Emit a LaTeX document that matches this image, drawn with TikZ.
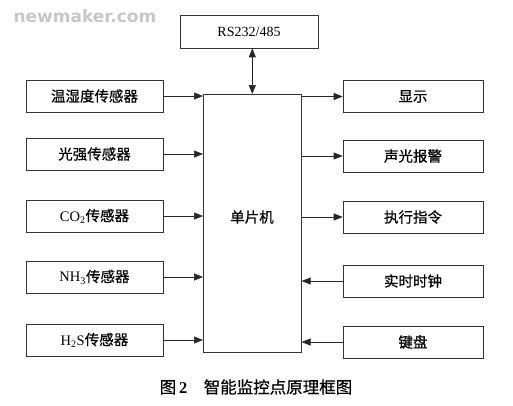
\documentclass[tikz,border=0pt]{standalone}
\usepackage{fontspec}
\setmainfont{Liberation Serif}
\newfontfamily\cjk[FakeBold=0.6]{Noto Sans CJK SC}
\newfontfamily\wmfont{DejaVu Sans}
\newcommand{\lat}[1]{{\rmfamily #1}}
\usetikzlibrary{arrows.meta}
\begin{document}
\begin{tikzpicture}[x=1pt,y=-1pt,
  blk/.style={draw=black!80,line width=0.6pt,minimum height=32pt,inner sep=0pt,font=\cjk\fontsize{14.5}{15}\selectfont},
  lbox/.style={blk,minimum width=137pt},
  rbox/.style={blk,minimum width=140pt},
  conn/.style={line width=0.7pt,black!85,-{Triangle[length=9pt,width=7pt]}},
  both/.style={line width=0.7pt,black!85,{Triangle[length=9pt,width=7pt]}-{Triangle[length=9pt,width=7pt]}}]
\useasboundingbox (0,0) rectangle (513,405);
\node[font=\wmfont\bfseries\fontsize{17}{18}\selectfont,text=black!22,anchor=west] (wm) at (10,16) {newmaker.com};
\node[blk,minimum width=138pt,minimum height=33pt,font=\rmfamily\fontsize{14}{15}\selectfont] (rs) at (249,31.5) {RS232/485};
\node[blk,minimum width=98pt,minimum height=258pt,anchor=north west] (mcu) at (203,94) {};
\node[font=\cjk\fontsize{14.5}{15}\selectfont] (mcut) at (252,217) {单片机};
\node[lbox] (hum) at (94.5,96) {温湿度传感器};
\node[lbox] (lig) at (94.5,154) {光强传感器};
\node[lbox] (co) at (94.5,216) {\lat{CO\textsubscript{2}}传感器};
\node[lbox] (nh) at (94.5,277) {\lat{NH\textsubscript{3}}传感器};
\node[lbox] (hs) at (94.5,340) {\lat{H\textsubscript{2}S}传感器};
\node[rbox] (dis) at (413,96.5) {显示};
\node[rbox] (alm) at (413,156) {声光报警};
\node[rbox] (exe) at (413,217) {执行指令};
\node[rbox] (rtc) at (413,281) {实时时钟};
\node[rbox] (kbd) at (413,342) {键盘};
\node[font=\cjk\fontsize{16.5}{17}\selectfont] (cap) at (256,387) {图\,\lat{\bfseries 2}\quad 智能监控点原理框图};
\draw[both] (mcu.north |- rs.south) -- (mcu.north);
\foreach \n in {hum,lig,co,nh,hs} \draw[conn] (\n.east) -- (\n.east -| mcu.west);
\foreach \n in {dis,alm,exe} \draw[conn] (\n.west -| mcu.east) -- (\n.west);
\foreach \n in {rtc,kbd} \draw[conn] (\n.west) -- (\n.west -| mcu.east);
\end{tikzpicture}
\end{document}
